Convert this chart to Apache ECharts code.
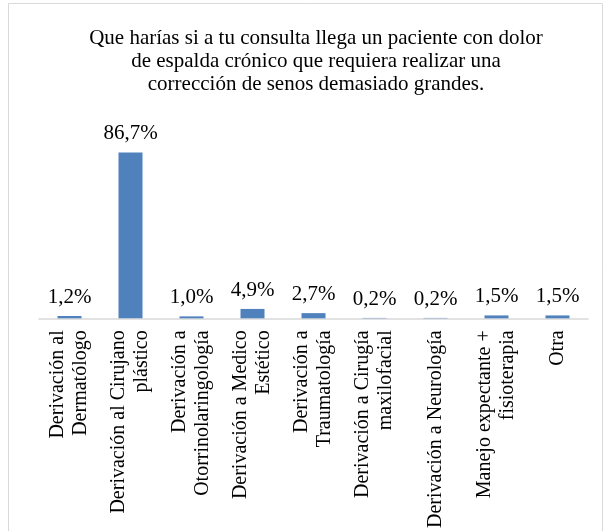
<!DOCTYPE html>
<html>
<head>
<meta charset="utf-8">
<script src="https://cdn.jsdelivr.net/npm/echarts@6/dist/echarts.min.js"></script>
<style>
html,body{margin:0;padding:0;background:#fff;}
#chart{width:606px;height:531px;}
</style>
</head>
<body>
<div id="chart"></div>
<script>
//categorías
var categorias = [
    "Derivación al\nDermatólogo",
    "Derivación al Cirujano\nplástico",
    "Derivación a\nOtorrinolaringología",
    "Derivación a Medico\nEstético",
    "Derivación a\nTraumatología",
    "Derivación a Cirugía\nmaxilofacial",
    "Derivación a Neurología",
    "Manejo expectante +\nfisioterapia",
    "Otra"
];
//porcentajes
var valores = [1.2, 86.7, 1.0, 4.9, 2.7, 0.2, 0.2, 1.5, 1.5];

var titulo = "Que harías si a tu consulta llega un paciente con dolor\nde espalda crónico que requiera realizar una\ncorrección de senos demasiado grandes.";

var fuente = 'Liberation Serif';

var myChart = echarts.init(document.getElementById('chart'));

var option = {
    animation: false,
    textStyle: { fontFamily: fuente },
    graphic: [{
        type: 'rect',
        shape: { x: 8.5, y: 3.5, width: 594, height: 540 },
        style: { fill: 'none', stroke: '#d9d9d9', lineWidth: 1 },
        silent: true
    }],
    title: {
        text: titulo,
        left: 311,
        top: 22,
        textAlign: 'center',
        textStyle: {
            fontFamily: fuente,
            fontSize: 21,
            fontWeight: 'normal',
            color: '#000',
            lineHeight: 23
        }
    },
    grid: { left: 39, width: 549, top: 127, height: 193 },
    xAxis: {
        type: 'category',
        data: categorias,
        axisLine: { lineStyle: { color: '#d9d9d9', width: 1.5 } },
        axisTick: { show: false },
        axisLabel: {
            rotate: 90,
            interval: 0,
            margin: 12,
            fontFamily: fuente,
            fontSize: 20,
            lineHeight: 23,
            color: '#000'
        }
    },
    yAxis: {
        type: 'value',
        min: 0,
        max: 100,
        show: false
    },
    series: [{
        type: 'bar',
        data: valores,
        barWidth: 24,
        itemStyle: { color: '#4F81BD' },
        label: {
            show: true,
            position: 'top',
            distance: 8,
            fontFamily: fuente,
            fontSize: 21,
            color: '#000',
            formatter: function (p) {
                return p.value.toFixed(1).replace('.', ',') + '%';
            }
        }
    }]
};

myChart.setOption(option);
</script>
</body>
</html>
